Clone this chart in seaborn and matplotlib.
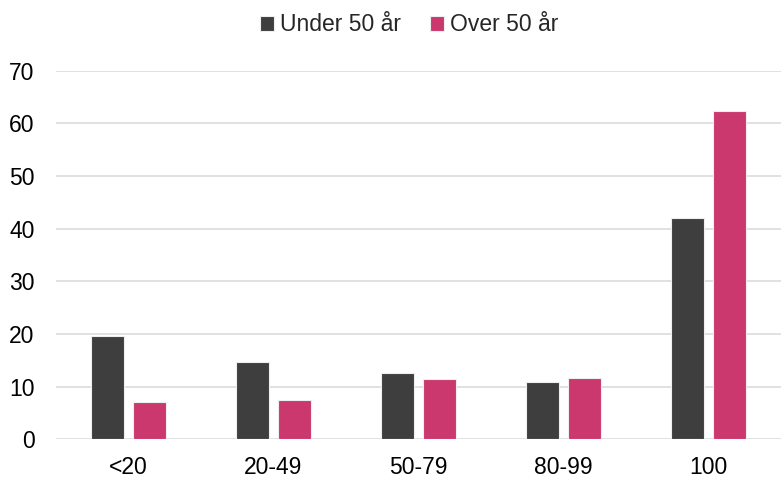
import matplotlib
matplotlib.use("Agg")
import matplotlib.pyplot as plt
import seaborn as sns
import pandas as pd

categories = ["<20", "20-49", "50-79", "80-99", "100"]
under_50 = [19.6, 14.7, 12.6, 10.9, 42.1]
over_50 = [7.1, 7.4, 11.4, 11.6, 62.4]
series_names = ["Under 50 år", "Over 50 år"]
y_ticks = [0, 10, 20, 30, 40, 50, 60, 70]

df = pd.DataFrame({
    "kategori": categories * 2,
    "verdi": under_50 + over_50,
    "gruppe": [series_names[0]] * len(categories) + [series_names[1]] * len(categories),
})

sns.set_theme(style="white")
plt.rcParams["font.family"] = ["Liberation Sans", "DejaVu Sans"]

fig = plt.figure(figsize=(7.81, 4.78), dpi=100)
ax = fig.add_axes([0.0717, 0.081, 0.9283, 0.7713])

palette = {series_names[0]: "#3E3E3E", series_names[1]: "#CB386D"}
sns.barplot(data=df, x="kategori", y="verdi", hue="gruppe", order=categories,
            hue_order=series_names, palette=palette, width=0.579, gap=0.214,
            edgecolor="#eeeeee", linewidth=0.8, saturation=1, ax=ax, legend=True)

ax.set_ylim(0, 70)
ax.set_yticks(y_ticks)
ax.set_yticklabels([str(t) for t in y_ticks])
ax.yaxis.grid(True, color="#d9d9d9", linewidth=1.1)
ax.set_axisbelow(True)
for s in ax.spines.values():
    s.set_visible(False)
ax.set_xlabel("")
ax.set_ylabel("")
ax.tick_params(axis="both", labelsize=16.5, colors="#000000", length=0)
ax.tick_params(axis="y", pad=15.5)
ax.tick_params(axis="x", pad=12)
ax.set_xlim(-0.5, len(categories) - 0.5)

handles, labels = ax.get_legend_handles_labels()
ax.get_legend().remove()
fig.legend(handles, labels, loc="center", bbox_to_anchor=(0.524, 0.948), ncol=2,
           frameon=False, fontsize=16.5, handlelength=0.6, handleheight=0.6,
           handletextpad=0.25, columnspacing=1.3)

fig.savefig("out.png", dpi=100)
